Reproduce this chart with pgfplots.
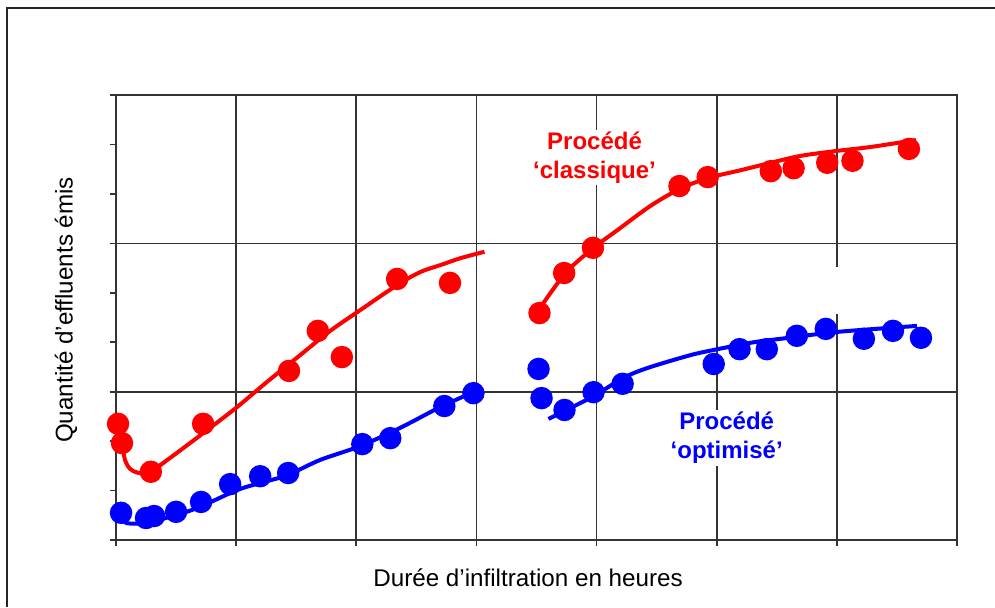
\documentclass[border=0pt]{standalone}
\usepackage{pgfplots}
\pgfplotsset{compat=1.18}
\usepackage{fontspec}
\setmainfont{Liberation Sans}
\definecolor{gridc}{HTML}{333333}
\definecolor{pred}{HTML}{FF0000}
\definecolor{pblue}{HTML}{0000FF}
\begin{document}
\begin{tikzpicture}
\useasboundingbox (0,0) rectangle (497.5pt,303.5pt);
\draw[line width=0.6pt, color=black!85] (3.5pt,0pt) -- (3.5pt,299.5pt) -- (497.5pt,299.5pt);
\begin{axis}[
  at={(58pt,33.5pt)}, anchor=south west,
  scale only axis, width=420.5pt, height=222.5pt,
  xmin=0, xmax=7, ymin=0, ymax=9,
  xtick={0,...,7}, xticklabels={},
  ytick={0,...,9}, yticklabels={},
  xtick pos=bottom, ytick pos=left,
  tick align=outside, major tick length=3pt,
  tick style={gridc, line width=0.85pt},
  axis line style={gridc, line width=0.9pt},
  xmajorgrids, grid style={gridc, line width=0.85pt},
  extra y ticks={3,6}, extra y tick labels={},
  extra y tick style={grid=major},
  clip=false,
  every axis plot/.append style={line width=2pt},
]
\fill[white] (axis cs:5.96,4.57) rectangle (axis cs:6.04,5.52);
% red fit curve 1
\addplot[pred, no marks, smooth] coordinates {
(0.05,1.96) (0.075,1.62) (0.117,1.44) (0.183,1.36) (0.283,1.38) (0.45,1.66)
(0.725,2.16) (1.008,2.69) (1.258,3.20) (1.533,3.74) (1.783,4.23) (2.033,4.65)
(2.342,5.16) (2.533,5.42) (2.70,5.56) (2.867,5.70) (3.067,5.83)};
% red fit curve 2
\addplot[pred, no marks, smooth] coordinates {
(3.517,4.65) (3.742,5.40) (3.975,5.91) (4.175,6.27) (4.45,6.76) (4.692,7.10)
(4.925,7.32) (5.2,7.48) (5.45,7.63) (5.70,7.77) (6.0,7.87) (6.283,7.95) (6.658,8.09)};
% blue fit curve 1
\addplot[pblue, no marks, smooth] coordinates {
(0.033,0.445) (0.092,0.34) (0.225,0.34) (0.342,0.40) (0.508,0.51) (0.70,0.67)
(1.008,1.01) (1.225,1.17) (1.425,1.31) (1.70,1.62) (2.033,1.90) (2.367,2.27)
(2.70,2.69) (2.992,3.01)};
% blue fit curve 2
\addplot[pblue, no marks, smooth] coordinates {
(3.6,2.45) (3.733,2.61) (3.975,2.91) (4.225,3.28) (4.425,3.48) (4.783,3.74)
(5.008,3.86) (5.308,4.00) (5.533,4.07) (6.008,4.21) (6.667,4.33)};
% red measurements
\addplot[only marks, mark=*, mark size=4.6pt, color=pred] coordinates {
(0.017,2.35) (0.05,1.96) (0.29,1.38) (0.725,2.35) (1.44,3.42) (1.68,4.23)
(1.88,3.70) (2.34,5.28) (2.78,5.20)
(3.525,4.59) (3.73,5.40) (3.97,5.91) (4.69,7.16) (4.925,7.34) (5.45,7.46)
(5.64,7.52) (5.92,7.63) (6.13,7.67) (6.6,7.91)};
% blue measurements
\addplot[only marks, mark=*, mark size=4.6pt, color=pblue] coordinates {
(0.042,0.55) (0.25,0.445) (0.317,0.485) (0.5,0.57) (0.708,0.77) (0.95,1.13)
(1.2,1.29) (1.433,1.355) (2.05,1.94) (2.283,2.06) (2.733,2.71) (2.975,2.97)
(3.517,3.46) (3.542,2.87) (3.733,2.63) (3.975,2.99) (4.217,3.16) (4.975,3.56)
(5.19,3.86) (5.417,3.86) (5.667,4.13) (5.908,4.27) (6.225,4.07) (6.467,4.23)
(6.7,4.09)};
\node[text=pred, fill=white, align=center, inner sep=1pt, font=\fontsize{12}{14.5}\selectfont\bfseries]
  at (axis cs:3.983,7.74) {Procédé\\‘classique’};
\node[text=pblue, fill=white, align=center, inner sep=1pt, font=\fontsize{12}{14.5}\selectfont\bfseries]
  at (axis cs:5.083,2.063) {Procédé\\‘optimisé’};
\node[font=\fontsize{12.1}{14.5}\selectfont] at (rel axis cs:0.49,-0.085) {Durée d’infiltration en heures};
\node[font=\fontsize{12.1}{14.5}\selectfont, rotate=90] at (rel axis cs:-0.0595,0.517) {Quantité d’effluents émis};
\end{axis}
\end{tikzpicture}
\end{document}
